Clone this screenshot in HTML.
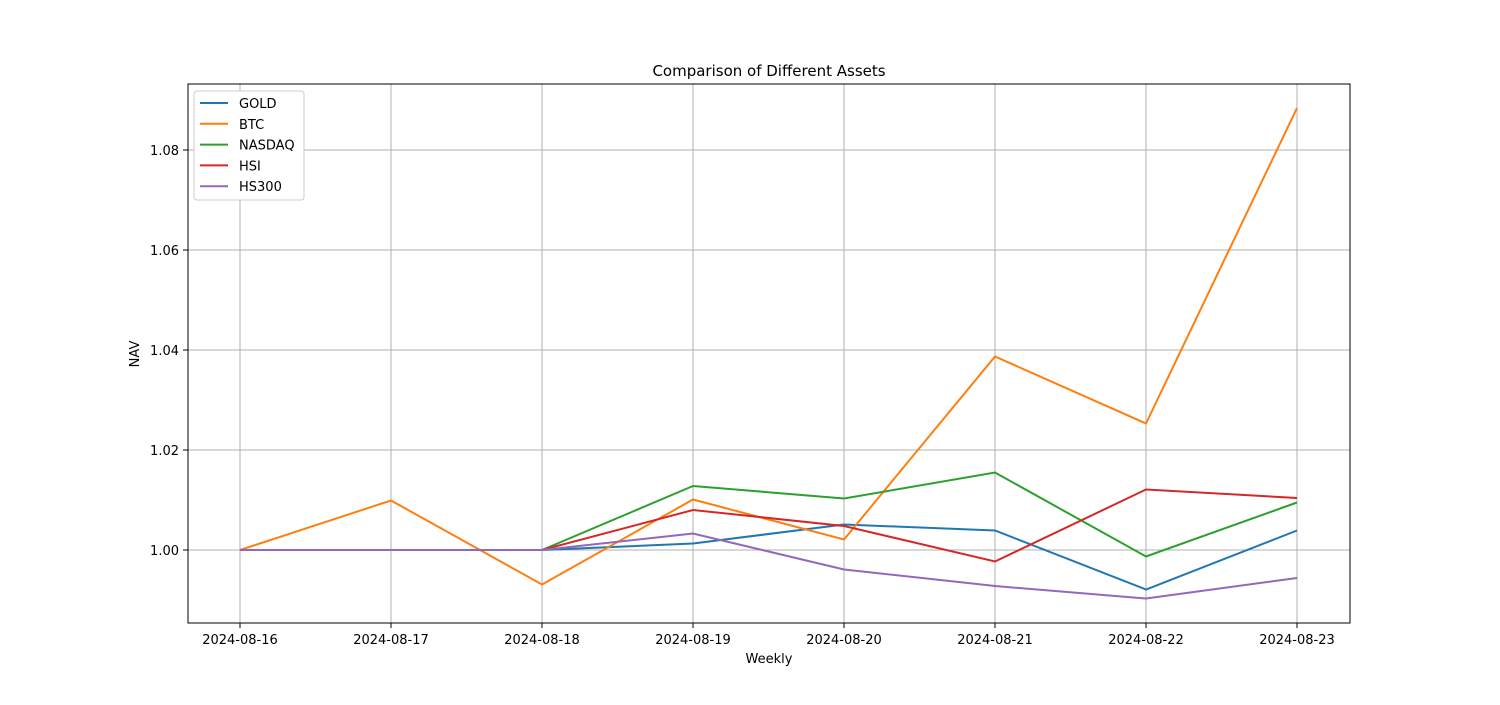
<!DOCTYPE html>
<html><head><meta charset="utf-8"><style>
body{margin:0;background:#fff;font-family:"Liberation Sans","DejaVu Sans",sans-serif;}
svg text{font-family:"DejaVu Sans","Liberation Sans",sans-serif;}
</style></head><body>
<svg id="chart" width="1500" height="700" xmlns="http://www.w3.org/2000/svg"></svg>
<script>
const categories=["2024-08-16","2024-08-17","2024-08-18","2024-08-19","2024-08-20","2024-08-21","2024-08-22","2024-08-23"];
const seriesNames=["GOLD","BTC","NASDAQ","HSI","HS300"];
const seriesColors=["#1f77b4","#ff7f0e","#2ca02c","#d62728","#9467bd"];
const gold=[1,1,1,1.0013,1.0051,1.0039,0.9921,1.0039];
const btc=[1,1.0099,0.9931,1.0101,1.0021,1.0387,1.0253,1.0884];
const nasdaq=[1,1,1,1.0128,1.0103,1.0155,0.9987,1.0095];
const hsi=[1,1,1,1.0080,1.0048,0.9977,1.0121,1.0104];
const hs300=[1,1,1,1.0033,0.9961,0.9928,0.9903,0.9944];
const yTicks=[1.00,1.02,1.04,1.06,1.08];
const yMin=0.9854,yMax=1.0932;
const L=188,R=1350,T=84,B=623;
const NS="http://www.w3.org/2000/svg";
const svg=document.getElementById('chart');
const x=i=>240+i*(1297-240)/(categories.length-1);
const y=v=>B-(v-yMin)/(yMax-yMin)*(B-T);
function mk(tag,attrs,parent){const e=document.createElementNS(NS,tag);for(const k in attrs)e.setAttribute(k,attrs[k]);(parent||svg).appendChild(e);return e;}
categories.forEach((c,i)=>{
 const g=mk('line',{x1:x(i),x2:x(i),y1:T,y2:B,stroke:'#b0b0b0','stroke-width':1,'shape-rendering':'crispEdges'});
 
 
 const t=mk('line',{x1:x(i),x2:x(i),y1:B,y2:B+5,stroke:'#000','shape-rendering':'crispEdges'});
 
 
 const l=mk('text',{x:x(i),y:B+21,'text-anchor':'middle','font-size':13});
 l.textContent=c;
 
 
});
yTicks.forEach(v=>{
 const g=mk('line',{x1:L,x2:R,y1:y(v),y2:y(v),stroke:'#b0b0b0','stroke-width':1,'shape-rendering':'crispEdges'});
 
 
 const t=mk('line',{x1:L-5,x2:L,y1:y(v),y2:y(v),stroke:'#000','shape-rendering':'crispEdges'});
 
 
 const l=mk('text',{x:L-9,y:y(v)+5,'text-anchor':'end','font-size':13});
 l.textContent=v.toFixed(2);
 
 
});
const data=[gold,btc,nasdaq,hsi,hs300];
data.forEach((s,k)=>{
 const p=mk('polyline',{points:s.map((v,i)=>x(i)+','+y(v)).join(' '),fill:'none',stroke:seriesColors[k],'stroke-width':2});
 
 
});
const frame=mk('rect',{x:L,y:T,width:R-L,height:B-T,fill:'none',stroke:'#000','stroke-width':1,'shape-rendering':'crispEdges'});


const lg=mk('g',{});


mk('rect',{x:194,y:91,width:110,height:109,rx:3,fill:'#fff',stroke:'#ccc'},lg);
seriesNames.forEach((n,k)=>{
 const yy=103+k*20.8;
 const e=mk('g',{},lg);
 
 
 mk('line',{x1:200,x2:228,y1:yy,y2:yy,stroke:seriesColors[k],'stroke-width':2},e);
 const t=mk('text',{x:239,y:yy+5,'font-size':13},e);t.textContent=n;
});
const title=mk('text',{x:769,y:76,'text-anchor':'middle','font-size':15});
title.textContent='Comparison of Different Assets';


const xt=mk('text',{x:769,y:663,'text-anchor':'middle','font-size':13});
xt.textContent='Weekly';


const yt=mk('text',{x:139,y:354,'text-anchor':'middle','font-size':13,transform:'rotate(-90 139 354)'});
yt.textContent='NAV';


</script>
</body></html>
